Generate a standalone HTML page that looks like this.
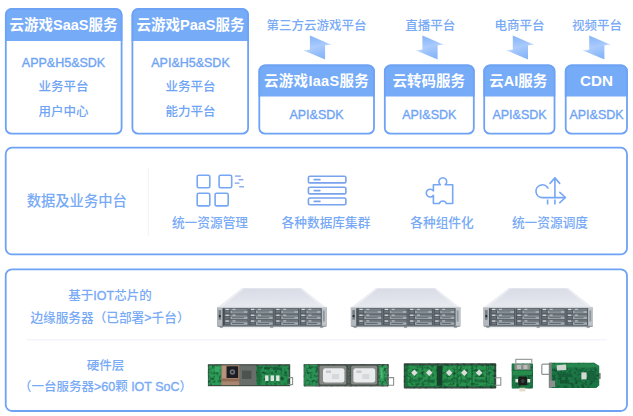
<!DOCTYPE html>
<html lang="zh-CN">
<head>
<meta charset="utf-8">
<title>云游戏架构</title>
<style>
html,body{margin:0;padding:0;background:#fff;}
body{width:633px;height:416px;position:relative;overflow:hidden;font-family:"Liberation Sans","Noto Sans CJK SC",sans-serif;color:#6fa4f5;}
.box{position:absolute;box-sizing:border-box;border:1.5px solid transparent;}
.hd{position:absolute;left:0;right:0;top:0;height:31px;color:#fff;font-weight:700;font-size:14.5px;line-height:32px;text-align:center;white-space:nowrap;}
.t{position:absolute;left:0;right:0;text-align:center;font-size:12.5px;font-weight:500;line-height:16px;white-space:nowrap;}
.lbl{position:absolute;text-align:center;font-size:12.5px;font-weight:500;line-height:16px;white-space:nowrap;color:#78aaf6;}
.l{-webkit-text-stroke:.35px currentColor;}
svg{position:absolute;overflow:visible;}
</style>
</head>
<body>

<!-- frames -->
<svg width="633" height="416" viewBox="0 0 633 416" style="left:0;top:0;" fill="none">
<path d="M5.8 40.3 V14.8 A5.8 5.8 0 0 1 11.6 9.0 H115.8 A5.8 5.8 0 0 1 121.6 14.8 V40.3 Z" fill="#76abf7" stroke="#76abf7" stroke-width="1.6"/>
<rect x="5.8" y="9.0" width="115.8" height="124.7" rx="5.8" stroke="#6da2f5" stroke-width="1.8"/>
<path d="M132.4 40.3 V14.8 A5.8 5.8 0 0 1 138.2 9.0 H242.3 A5.8 5.8 0 0 1 248.1 14.8 V40.3 Z" fill="#76abf7" stroke="#76abf7" stroke-width="1.6"/>
<rect x="132.4" y="9.0" width="115.7" height="124.7" rx="5.8" stroke="#6da2f5" stroke-width="1.8"/>
<path d="M259.3 95.8 V71.2 A5.8 5.8 0 0 1 265.1 65.4 H368.2 A5.8 5.8 0 0 1 374.0 71.2 V95.8 Z" fill="#76abf7" stroke="#76abf7" stroke-width="1.6"/>
<rect x="259.3" y="65.4" width="114.7" height="68.3" rx="5.8" stroke="#6da2f5" stroke-width="1.8"/>
<path d="M384.8 95.8 V71.2 A5.8 5.8 0 0 1 390.6 65.4 H468.0 A5.8 5.8 0 0 1 473.8 71.2 V95.8 Z" fill="#76abf7" stroke="#76abf7" stroke-width="1.6"/>
<rect x="384.8" y="65.4" width="89.0" height="68.3" rx="5.8" stroke="#6da2f5" stroke-width="1.8"/>
<path d="M484.2 95.8 V71.2 A5.8 5.8 0 0 1 490.0 65.4 H548.7 A5.8 5.8 0 0 1 554.5 71.2 V95.8 Z" fill="#76abf7" stroke="#76abf7" stroke-width="1.6"/>
<rect x="484.2" y="65.4" width="70.3" height="68.3" rx="5.8" stroke="#6da2f5" stroke-width="1.8"/>
<path d="M565.7 95.8 V71.2 A5.8 5.8 0 0 1 571.5 65.4 H621.2 A5.8 5.8 0 0 1 627.0 71.2 V95.8 Z" fill="#76abf7" stroke="#76abf7" stroke-width="1.6"/>
<rect x="565.7" y="65.4" width="61.3" height="68.3" rx="5.8" stroke="#6da2f5" stroke-width="1.8"/>
<rect x="5.7" y="147.7" width="621.3" height="106.7" rx="6.2" stroke="#6da2f5" stroke-width="1.8"/>
<rect x="5.7" y="269.3" width="621.3" height="141.7" rx="6.2" stroke="#6da2f5" stroke-width="1.8"/>
</svg>
<!-- top row -->
<div class="box" style="left:4.5px;top:8.2px;width:118px;height:126.3px;">
  <div class="hd">云游戏SaaS服务</div>
  <div class="t" style="top:45.8px;"><span class="l">APP&amp;H5&amp;SDK</span></div>
  <div class="t" style="top:69.7px;">业务平台</div>
  <div class="t" style="top:94.9px;">用户中心</div>
</div>
<div class="box" style="left:131.5px;top:8.2px;width:118px;height:126.3px;">
  <div class="hd">云游戏PaaS服务</div>
  <div class="t" style="top:45.8px;"><span class="l">API&amp;H5&amp;SDK</span></div>
  <div class="t" style="top:69.7px;">业务平台</div>
  <div class="t" style="top:94.9px;">能力平台</div>
</div>

<div class="lbl" style="left:258px;width:117px;top:17.8px;">第三方云游戏平台</div>
<div class="lbl" style="left:385.3px;width:90px;top:17.8px;">直播平台</div>
<div class="lbl" style="left:484px;width:71px;top:17.8px;">电商平台</div>
<div class="lbl" style="left:565.6px;width:63px;top:17.8px;">视频平台</div>

<div class="box" style="left:258px;top:64.5px;width:117px;height:70px;">
  <div class="hd" style="letter-spacing:.3px;line-height:31px;">云游戏IaaS服务</div>
  <div class="t" style="top:41.5px;"><span class="l">API&amp;SDK</span></div>
</div>
<div class="box" style="left:384px;top:64.5px;width:90.5px;height:70px;">
  <div class="hd" style="line-height:31px;left:-1px;">云转码服务</div>
  <div class="t" style="top:41.5px;"><span class="l">API&amp;SDK</span></div>
</div>
<div class="box" style="left:483.5px;top:64.5px;width:72px;height:70px;">
  <div class="hd" style="line-height:31px;left:-2.4px;">云AI服务</div>
  <div class="t" style="top:41.5px;"><span class="l">API&amp;SDK</span></div>
</div>
<div class="box" style="left:565px;top:64.5px;width:63px;height:70px;">
  <div class="hd" style="line-height:30.4px;font-size:15.2px;">CDN</div>
  <div class="t" style="top:41.5px;"><span class="l">API&amp;SDK</span></div>
</div>

<svg width="633" height="70" viewBox="0 0 633 70" style="left:0;top:0;">
<defs><linearGradient id="ag" x1="0" y1="0" x2="0.3" y2="1"><stop offset="0" stop-color="#79adf8"/><stop offset="0.55" stop-color="#a9cafc"/><stop offset="1" stop-color="#88b7f9"/></linearGradient>
<linearGradient id="ah" x1="0" y1="0" x2="1" y2="0"><stop offset="0" stop-color="#fff" stop-opacity="0.55"/><stop offset="0.24" stop-color="#fff" stop-opacity="0.05"/><stop offset="0.5" stop-color="#fff" stop-opacity="0"/><stop offset="0.777" stop-color="#fff" stop-opacity="0"/><stop offset="1" stop-color="#fff" stop-opacity="0.55"/></linearGradient></defs>
<polygon points="309.9,35.5 331.4,44.7 325.1,45.2 325.1,59.5 303.2,50.2 309.9,49.8" fill="url(#ag)"/><polygon points="309.9,35.5 331.4,44.7 325.1,45.2 325.1,59.5 303.2,50.2 309.9,49.8" fill="url(#ah)"/>
<polygon points="422.4,35.5 443.9,44.7 437.6,45.2 437.6,59.5 415.7,50.2 422.4,49.8" fill="url(#ag)"/><polygon points="422.4,35.5 443.9,44.7 437.6,45.2 437.6,59.5 415.7,50.2 422.4,49.8" fill="url(#ah)"/>
<polygon points="512.8,35.5 534.3,44.7 528.0,45.2 528.0,59.5 506.1,50.2 512.8,49.8" fill="url(#ag)"/><polygon points="512.8,35.5 534.3,44.7 528.0,45.2 528.0,59.5 506.1,50.2 512.8,49.8" fill="url(#ah)"/>
<polygon points="589.2,35.5 610.7,44.7 604.4,45.2 604.4,59.5 582.5,50.2 589.2,49.8" fill="url(#ag)"/><polygon points="589.2,35.5 610.7,44.7 604.4,45.2 604.4,59.5 582.5,50.2 589.2,49.8" fill="url(#ah)"/>
</svg>
<!-- middle panel -->
<div class="lbl" style="left:20px;width:113.5px;top:192.5px;font-size:14.3px;">数据及业务中台</div>
<div class="lbl" style="left:160px;width:100px;top:214.7px;font-size:12.7px;">统一资源管理</div>
<div class="lbl" style="left:270px;width:112px;top:214.7px;font-size:12.7px;">各种数据库集群</div>
<div class="lbl" style="left:392px;width:100px;top:214.7px;font-size:12.7px;">各种组件化</div>
<div class="lbl" style="left:500px;width:100px;top:214.7px;font-size:12.7px;">统一资源调度</div>

<svg width="633" height="416" viewBox="0 0 633 416" style="left:0;top:0;pointer-events:none;" fill="none" stroke="#76a7f5" stroke-width="1.6" stroke-linecap="round" stroke-linejoin="round">
<line x1="148.3" y1="168" x2="148.3" y2="235.5" stroke="#eef2f7" stroke-width="1"/>
<!-- grid icon -->
<rect x="197.2" y="175.2" width="12.6" height="12.6" rx="1.5"/>
<rect x="219.1" y="175.2" width="12.6" height="12.6" rx="1.5"/>
<rect x="197.2" y="193.3" width="12.6" height="12.6" rx="1.5"/>
<rect x="215.1" y="193.3" width="13.1" height="12.6" rx="1.5"/>
<g stroke="#7c9fe9" stroke-width="1.3" stroke-linecap="butt">
<line x1="235" y1="176.1" x2="240.8" y2="176.1"/>
<line x1="238.5" y1="179.7" x2="243.3" y2="179.7"/>
<line x1="234.7" y1="183.1" x2="239.5" y2="183.1"/>
<line x1="239.2" y1="186.8" x2="243.9" y2="186.8"/>
</g>
<!-- db icon -->
<g stroke="#7aa3ee">
<rect x="308.4" y="176.2" width="37.5" height="6.7" rx="1.5"/>
<rect x="308.4" y="187.2" width="37.5" height="6.7" rx="1.5"/>
<rect x="308.4" y="198" width="37.5" height="6.7" rx="1.5"/>
<line x1="314.3" y1="179.7" x2="319.8" y2="179.7" stroke-width="1.8"/>
<line x1="314.3" y1="190.6" x2="319.8" y2="190.6" stroke-width="1.8"/>
<line x1="314.3" y1="201.4" x2="319.8" y2="201.4" stroke-width="1.8"/>
</g>
<!-- puzzle icon -->
<path d="M433.4 184.7 H440.4 A3.9 3.9 0 1 1 445.2 184.7 H452.7 V203.5 H446.3 A3.7 3.7 0 0 0 439.3 203.5 H433.4 V195.3 A3.9 3.9 0 1 1 433.4 190.9 Z"/>
<!-- cloud dispatch icon -->
<path d="M548 188.1 A6.4 6.4 0 1 0 542.4 197.6 H565"/>
<path d="M559.8 192.3 L565.5 197.5 L559.8 202.6"/>
<path d="M554.9 197.6 V178.2"/>
<path d="M550 183.4 L554.9 177.9 L559.7 183.4"/>
<path d="M547.6 199.4 V204.5 M554.9 199.4 V204.5" stroke-linecap="butt"/>
</svg>
<!-- bottom panel -->
<div class="lbl" style="left:20px;width:180px;top:288px;">基于<span class="l">IOT</span>芯片的</div>
<div class="lbl" style="left:20px;width:180px;top:309.8px;font-size:12.65px;">边缘服务器（已部署<span class="l">&gt;</span>千台）</div>
<div class="lbl" style="left:15.5px;width:180px;top:357.5px;">硬件层</div>
<div class="lbl" style="left:5.5px;width:200px;top:378.8px;">（一台服务器<span class="l">&gt;60</span>颗 <span class="l">IOT SoC</span>）</div>

<svg width="633" height="416" viewBox="0 0 633 416" style="left:0;top:0;pointer-events:none;">
<defs>
<linearGradient id="lidg" x1="0" y1="0" x2="0.15" y2="1"><stop offset="0" stop-color="#d8dbe5"/><stop offset="0.55" stop-color="#dfe2ea"/><stop offset="1" stop-color="#e6e9ee"/></linearGradient>
<linearGradient id="shg" x1="0" y1="0" x2="0" y2="1"><stop offset="0" stop-color="#d9dce0"/><stop offset="1" stop-color="#ffffff" stop-opacity="0"/></linearGradient>
<filter id="tex" x="-2%" y="-5%" width="104%" height="110%" color-interpolation-filters="sRGB">
<feTurbulence type="fractalNoise" baseFrequency="0.32 0.36" numOctaves="2" seed="7" result="n"/>
<feColorMatrix in="n" type="matrix" values="0 0 0 0 0.05  0 0 0 0 0.22  0 0 0 0 0.13  0 0 0 1.9 -0.85" result="a"/>
<feComposite in="a" in2="SourceGraphic" operator="in" result="d"/>
<feMerge><feMergeNode in="SourceGraphic"/><feMergeNode in="d"/></feMerge>
</filter>
<filter id="soft" x="-5%" y="-5%" width="110%" height="110%"><feGaussianBlur stdDeviation="0.35"/></filter>
<g id="srv">
<rect x="3" y="38.8" width="103" height="3.6" fill="url(#shg)"/>
<polygon points="25,0.7 84.6,0.7 108.4,19.8 0.8,19.8" fill="url(#lidg)"/>
<polygon points="25,0.7 27.4,0.7 4.4,19.8 0.8,19.8" fill="#eceef2"/>
<polygon points="84.6,0.7 82.6,0.7 105,19.8 108.4,19.8" fill="#eceef2"/>
<rect x="0" y="19.6" width="109.4" height="19" fill="#6b747b"/>
<rect x="0" y="19.4" width="109.4" height="1.3" fill="#cdd1d6"/>
<rect x="0" y="20.4" width="5.6" height="18.2" fill="#b3b9be"/>
<rect x="104.6" y="20.4" width="4.8" height="18.2" fill="#bfc4c8"/>
<rect x="1.4" y="22.6" width="2.6" height="9.6" fill="#757e85"/>
<rect x="1.8" y="27.6" width="1.8" height="2" fill="#24282c"/>
<rect x="5.6" y="20.6" width="1.1" height="18" fill="#3c4247"/>
<rect x="105.8" y="23" width="1.8" height="11" fill="#8e969b"/>
<rect x="6.9" y="20.8" width="24.4" height="5.4" fill="#4c535a"/>
<rect x="7.7" y="21.2" width="22.8" height="1.5" fill="#7b848b"/>
<rect x="8.5" y="21.3" width="3.2" height="1.3" fill="#d3d8db"/>
<rect x="15.4" y="21.3" width="3" height="1.1" fill="#c3c9cd"/>
<rect x="13.4" y="23.1" width="17.1" height="2.7" fill="#a2abb1"/>
<rect x="14.9" y="23.9" width="11.9" height="1" fill="#626a71"/>
<rect x="7.9" y="23.4" width="4.6" height="2" fill="#6d767c"/>
<rect x="6.9" y="26.6" width="24.4" height="5.4" fill="#4c535a"/>
<rect x="7.7" y="27.0" width="22.8" height="1.5" fill="#7b848b"/>
<rect x="8.5" y="27.1" width="3.2" height="1.3" fill="#d3d8db"/>
<rect x="15.4" y="27.1" width="3" height="1.1" fill="#c3c9cd"/>
<rect x="13.4" y="28.9" width="17.1" height="2.7" fill="#a2abb1"/>
<rect x="14.9" y="29.7" width="11.9" height="1" fill="#626a71"/>
<rect x="7.9" y="29.2" width="4.6" height="2" fill="#6d767c"/>
<rect x="6.9" y="32.4" width="24.4" height="5.4" fill="#4c535a"/>
<rect x="7.7" y="32.8" width="22.8" height="1.5" fill="#7b848b"/>
<rect x="8.5" y="32.9" width="3.2" height="1.3" fill="#d3d8db"/>
<rect x="15.4" y="32.9" width="3" height="1.1" fill="#c3c9cd"/>
<rect x="13.4" y="34.7" width="17.1" height="2.7" fill="#a2abb1"/>
<rect x="14.9" y="35.5" width="11.9" height="1" fill="#626a71"/>
<rect x="7.9" y="35.0" width="4.6" height="2" fill="#6d767c"/>
<rect x="32.3" y="20.8" width="24.2" height="5.4" fill="#4c535a"/>
<rect x="33.1" y="21.2" width="22.6" height="1.5" fill="#7b848b"/>
<rect x="33.9" y="21.3" width="3.2" height="1.3" fill="#d3d8db"/>
<rect x="40.8" y="21.3" width="3" height="1.1" fill="#c3c9cd"/>
<rect x="38.8" y="23.1" width="16.9" height="2.7" fill="#a2abb1"/>
<rect x="40.3" y="23.9" width="11.7" height="1" fill="#626a71"/>
<rect x="33.3" y="23.4" width="4.6" height="2" fill="#6d767c"/>
<rect x="32.3" y="26.6" width="24.2" height="5.4" fill="#4c535a"/>
<rect x="33.1" y="27.0" width="22.6" height="1.5" fill="#7b848b"/>
<rect x="33.9" y="27.1" width="3.2" height="1.3" fill="#d3d8db"/>
<rect x="40.8" y="27.1" width="3" height="1.1" fill="#c3c9cd"/>
<rect x="38.8" y="28.9" width="16.9" height="2.7" fill="#a2abb1"/>
<rect x="40.3" y="29.7" width="11.7" height="1" fill="#626a71"/>
<rect x="33.3" y="29.2" width="4.6" height="2" fill="#6d767c"/>
<rect x="32.3" y="32.4" width="24.2" height="5.4" fill="#4c535a"/>
<rect x="33.1" y="32.8" width="22.6" height="1.5" fill="#7b848b"/>
<rect x="33.9" y="32.9" width="3.2" height="1.3" fill="#d3d8db"/>
<rect x="40.8" y="32.9" width="3" height="1.1" fill="#c3c9cd"/>
<rect x="38.8" y="34.7" width="16.9" height="2.7" fill="#a2abb1"/>
<rect x="40.3" y="35.5" width="11.7" height="1" fill="#626a71"/>
<rect x="33.3" y="35.0" width="4.6" height="2" fill="#6d767c"/>
<rect x="57.6" y="20.8" width="24.2" height="5.4" fill="#4c535a"/>
<rect x="58.4" y="21.2" width="22.6" height="1.5" fill="#7b848b"/>
<rect x="59.2" y="21.3" width="3.2" height="1.3" fill="#d3d8db"/>
<rect x="66.1" y="21.3" width="3" height="1.1" fill="#c3c9cd"/>
<rect x="64.1" y="23.1" width="16.9" height="2.7" fill="#a2abb1"/>
<rect x="65.6" y="23.9" width="11.7" height="1" fill="#626a71"/>
<rect x="58.6" y="23.4" width="4.6" height="2" fill="#6d767c"/>
<rect x="57.6" y="26.6" width="24.2" height="5.4" fill="#4c535a"/>
<rect x="58.4" y="27.0" width="22.6" height="1.5" fill="#7b848b"/>
<rect x="59.2" y="27.1" width="3.2" height="1.3" fill="#d3d8db"/>
<rect x="66.1" y="27.1" width="3" height="1.1" fill="#c3c9cd"/>
<rect x="64.1" y="28.9" width="16.9" height="2.7" fill="#a2abb1"/>
<rect x="65.6" y="29.7" width="11.7" height="1" fill="#626a71"/>
<rect x="58.6" y="29.2" width="4.6" height="2" fill="#6d767c"/>
<rect x="57.6" y="32.4" width="24.2" height="5.4" fill="#4c535a"/>
<rect x="58.4" y="32.8" width="22.6" height="1.5" fill="#7b848b"/>
<rect x="59.2" y="32.9" width="3.2" height="1.3" fill="#d3d8db"/>
<rect x="66.1" y="32.9" width="3" height="1.1" fill="#c3c9cd"/>
<rect x="64.1" y="34.7" width="16.9" height="2.7" fill="#a2abb1"/>
<rect x="65.6" y="35.5" width="11.7" height="1" fill="#626a71"/>
<rect x="58.6" y="35.0" width="4.6" height="2" fill="#6d767c"/>
<rect x="82.8" y="20.8" width="21.6" height="5.4" fill="#4c535a"/>
<rect x="83.6" y="21.2" width="20.0" height="1.5" fill="#7b848b"/>
<rect x="84.4" y="21.3" width="3.2" height="1.3" fill="#d3d8db"/>
<rect x="91.3" y="21.3" width="3" height="1.1" fill="#c3c9cd"/>
<rect x="89.3" y="23.1" width="14.3" height="2.7" fill="#a2abb1"/>
<rect x="90.8" y="23.9" width="9.1" height="1" fill="#626a71"/>
<rect x="83.8" y="23.4" width="4.6" height="2" fill="#6d767c"/>
<rect x="82.8" y="26.6" width="21.6" height="5.4" fill="#4c535a"/>
<rect x="83.6" y="27.0" width="20.0" height="1.5" fill="#7b848b"/>
<rect x="84.4" y="27.1" width="3.2" height="1.3" fill="#d3d8db"/>
<rect x="91.3" y="27.1" width="3" height="1.1" fill="#c3c9cd"/>
<rect x="89.3" y="28.9" width="14.3" height="2.7" fill="#a2abb1"/>
<rect x="90.8" y="29.7" width="9.1" height="1" fill="#626a71"/>
<rect x="83.8" y="29.2" width="4.6" height="2" fill="#6d767c"/>
<rect x="82.8" y="32.4" width="21.6" height="5.4" fill="#4c535a"/>
<rect x="83.6" y="32.8" width="20.0" height="1.5" fill="#7b848b"/>
<rect x="84.4" y="32.9" width="3.2" height="1.3" fill="#d3d8db"/>
<rect x="91.3" y="32.9" width="3" height="1.1" fill="#c3c9cd"/>
<rect x="89.3" y="34.7" width="14.3" height="2.7" fill="#a2abb1"/>
<rect x="90.8" y="35.5" width="9.1" height="1" fill="#626a71"/>
<rect x="83.8" y="35.0" width="4.6" height="2" fill="#6d767c"/>
<rect x="0.4" y="38.3" width="108.6" height="1" fill="#878e94"/>
<rect x="2.6" y="39.1" width="3.2" height="0.9" fill="#5d646a"/><rect x="53" y="39.1" width="3.2" height="0.9" fill="#5d646a"/><rect x="103" y="39.1" width="3.2" height="0.9" fill="#5d646a"/>
</g>
</defs>
<line x1="26.5" y1="339.8" x2="606.8" y2="339.8" stroke="#eef1f5" stroke-width="1"/>
<g filter="url(#soft)">
<use href="#srv" x="217.1" y="287.5"/>
<use href="#srv" x="350.9" y="287.5"/>
<use href="#srv" x="483.6" y="287.5"/>
</g>
<!--PCB-START-->
<g filter="url(#soft)">
<g filter="url(#tex)">
<rect x="207.9" y="364.6" width="82.3" height="21.4" rx="0.8" fill="#46564e"/>
<rect x="208.8" y="365.4" width="12.6" height="19.8" fill="#2b9c57"/>
<rect x="256.2" y="365.4" width="32.6" height="19.8" fill="#278f4f"/>
<rect x="303.6" y="364" width="85.2" height="22.4" rx="0.8" fill="#5d6561"/>
<rect x="304.4" y="364.8" width="13.2" height="20.8" fill="#2a9455"/>
<rect x="379.2" y="365.2" width="7.8" height="19.8" fill="#2fa05a"/>
<rect x="403.8" y="363.3" width="92.4" height="25.2" rx="0.8" fill="#3d4d45"/>
<rect x="404.8" y="365.3" width="89.6" height="21.6" fill="#1d7341"/>
<rect x="407.8" y="365.7" width="13.9" height="20.4" fill="#2a9450"/>
<rect x="422.6" y="365.7" width="13.9" height="20.4" fill="#2a9450"/>
<rect x="442.6" y="365.7" width="13.9" height="20.4" fill="#2a9450"/>
<rect x="458.2" y="365.7" width="13.0" height="20.4" fill="#2a9450"/>
<rect x="473" y="365.7" width="13.0" height="20.4" fill="#2a9450"/>
<rect x="487" y="366" width="7" height="19.6" fill="#268c4c"/>
<rect x="511.7" y="363.4" width="21.3" height="25.2" rx="0.8" fill="#1f7a45"/>
<polygon points="549.4,362.8 594,362.8 599.2,365.8 599.2,385.6 596,388 549.4,388" fill="#1d7746"/>
</g>
<rect x="215" y="367" width="4.5" height="5" fill="#3cab66" opacity=".8"/>
<rect x="221.3" y="365" width="18.4" height="20.6" fill="#a98670"/>
<rect x="221.3" y="378.8" width="18.4" height="2.6" fill="#8f6a55"/>
<rect x="222.2" y="366" width="3.6" height="12" fill="#b8937d"/>
<rect x="226.6" y="366.2" width="11.6" height="11.8" rx="0.6" fill="#1b1e20"/>
<circle cx="232.4" cy="372" r="2.7" fill="#6d7478"/><circle cx="232.4" cy="372" r="1.2" fill="#2a2e31"/>
<rect x="239.6" y="364.8" width="16.6" height="21" fill="#686e6a"/>
<rect x="242" y="370.6" width="9.4" height="8.4" fill="#4d534f"/>
<rect x="257" y="366.5" width="3.6" height="17" fill="#1b6539" opacity=".8"/>
<rect x="264" y="367.2" width="6" height="2.2" fill="#14522d"/><rect x="273" y="367.5" width="9" height="2.5" fill="#17603a"/>
<rect x="265.1" y="375.4" width="3.4" height="5.6" fill="#dfe6e0"/>
<rect x="270.6" y="375.4" width="3.4" height="5.6" fill="#dfe6e0"/>
<rect x="276.1" y="375.4" width="3.4" height="5.6" fill="#dfe6e0"/>
<path d="M288.6 377.6 H292.6 V384.6 H288.6" fill="none" stroke="#8b9290" stroke-width="1.1"/>
<rect x="207.9" y="364.4" width="82.3" height="0.9" fill="#39453f"/><rect x="207.9" y="385.3" width="82.3" height="0.9" fill="#39453f"/>
<rect x="318.3" y="364.6" width="29.2" height="21.2" rx="1" fill="#4a4f4c"/>
<rect x="319.5" y="365.8" width="26.8" height="18.8" rx="1.5" fill="#868b88"/>
<rect x="323" y="368.2" width="21.4" height="14.4" rx="2.4" fill="#e9ebed"/>
<rect x="326.0" y="370.5" width="5" height="2.4" fill="#c3c8cc"/>
<rect x="332.0" y="374" width="7" height="5" fill="#d5d9dc"/>
<rect x="349.9" y="364.6" width="28.4" height="21.2" rx="1" fill="#4a4f4c"/>
<rect x="351.1" y="365.8" width="26.0" height="18.8" rx="1.5" fill="#868b88"/>
<rect x="353.4" y="368.2" width="21.8" height="14.4" rx="2.4" fill="#e9ebed"/>
<rect x="356.4" y="370.5" width="5" height="2.4" fill="#c3c8cc"/>
<rect x="362.4" y="374" width="7" height="5" fill="#d5d9dc"/>
<rect x="380.5" y="368" width="2" height="10" fill="#5abf80" opacity=".8"/>
<path d="M388.6 377.6 H393.6 V385.2 H388.6" fill="none" stroke="#8b9290" stroke-width="1.1"/>
<rect x="412.1" y="370.4" width="4.6" height="4.6" transform="rotate(45 414.4 372.7)" fill="#dcdedb"/>
<rect x="409.3" y="379.4" width="10.9" height="3" fill="#1a693a" opacity=".75"/>
<rect x="426.9" y="370.4" width="4.6" height="4.6" transform="rotate(45 429.2 372.7)" fill="#dcdedb"/>
<rect x="424.1" y="379.4" width="10.9" height="3" fill="#1a693a" opacity=".75"/>
<rect x="446.9" y="370.4" width="4.6" height="4.6" transform="rotate(45 449.2 372.7)" fill="#dcdedb"/>
<rect x="444.1" y="379.4" width="10.9" height="3" fill="#1a693a" opacity=".75"/>
<rect x="462.0" y="370.4" width="4.6" height="4.6" transform="rotate(45 464.3 372.7)" fill="#dcdedb"/>
<rect x="459.7" y="379.4" width="10.0" height="3" fill="#1a693a" opacity=".75"/>
<rect x="476.8" y="370.4" width="4.6" height="4.6" transform="rotate(45 479.1 372.7)" fill="#dcdedb"/>
<rect x="474.5" y="379.4" width="10.0" height="3" fill="#1a693a" opacity=".75"/>
<rect x="437" y="366" width="5.2" height="19.6" fill="#163f2a"/>
<path d="M494.8 377.8 H500.8 V385.2 H494.8" fill="none" stroke="#8b9290" stroke-width="1.1"/>
<path d="M515.8 364 V359.4 H531.8 V364" fill="none" stroke="#9aa09d" stroke-width="1.2"/>
<rect x="514.4" y="364.2" width="16" height="5.6" fill="#8c928d"/>
<rect x="517" y="365" width="4" height="4" fill="#b9bdb9"/><rect x="523.5" y="365" width="4" height="4" fill="#b9bdb9"/>
<rect x="513" y="371" width="18.6" height="4" fill="#2a9350" opacity=".8"/>
<rect x="518.4" y="376.6" width="8.6" height="8.6" rx="1" fill="#1a1c1d"/>
<circle cx="522.7" cy="380.9" r="2" fill="#3a3f42"/>
<rect x="515.4" y="379" width="2.6" height="3.4" fill="#dfe4df"/><rect x="527.4" y="379" width="2.8" height="3.4" fill="#dfe4df"/>
<rect x="519.4" y="387.8" width="5.8" height="3.6" fill="#e3dcc8"/>
<path d="M549.4 364.2 H543 Q541.8 364.2 541.8 365.4 V373.4 Q541.8 374.4 543 374.4 H549.4" fill="none" stroke="#8d9391" stroke-width="1.2"/>
<rect x="548.8" y="362.8" width="3" height="25.2" fill="#7d8581"/>
<polygon points="552,363.6 594,363.6 598.4,366.2 598.4,367.6 552,367.6" fill="#2a8d52" opacity=".8"/>
<polygon points="556.6,365.2 566,364.6 566.4,370 557,370.6" fill="#cfd6cf"/>
<rect x="581.4" y="372.4" width="5.2" height="7" fill="#d4d9d6"/>
<rect x="549.8" y="380.6" width="5.4" height="6.4" fill="#8b908c"/>
<rect x="558" y="374" width="14" height="3" fill="#165a35" opacity=".8"/><rect x="560" y="380" width="9" height="3.4" fill="#15522f" opacity=".8"/>
<rect x="588" y="371" width="8" height="9" fill="#18603a" opacity=".8"/>
<rect x="599" y="373" width="1.6" height="6" fill="#6f7773"/>
</g>
</svg>
</body>
</html>
